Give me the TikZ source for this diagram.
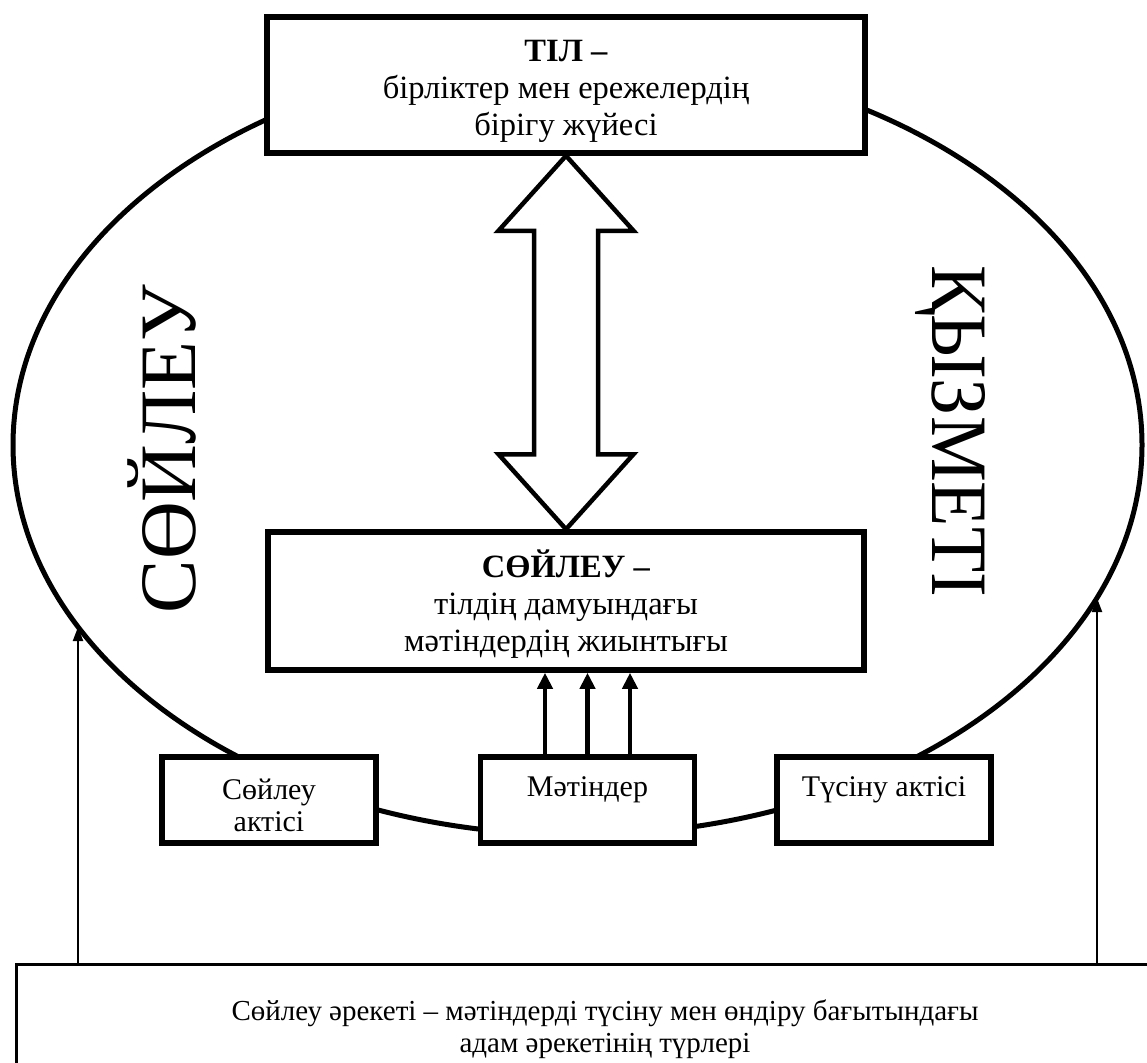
\documentclass[tikz,border=0pt]{standalone}
\usepackage{fontspec}
\setmainfont{Liberation Serif}
\usetikzlibrary{arrows.meta,calc}
\begin{document}
\begin{tikzpicture}[x=1pt,y=-1pt,
  bigbox/.style={draw,line width=5.5pt,fill=white,inner sep=0pt},
  boxtxt/.style={inner sep=0pt,align=center,font=\fontsize{32.5}{37}\selectfont},
  smallbox/.style={draw,line width=5.5pt,fill=white,inner sep=0pt,
    minimum width=214pt,minimum height=86pt},
  smalltxt/.style={inner sep=0pt,align=center,font=\fontsize{30}{32}\selectfont},
  bottombox/.style={draw,line width=2.5pt,fill=white,inner sep=0pt},
  bigword/.style={inner sep=0pt,font=\fontsize{80}{80}\selectfont},
  thickarrow/.style={line width=4.5pt,-{Triangle[length=16pt,width=15pt]}},
  thinarrow/.style={line width=2pt,-{Triangle[length=14pt,width=10pt]}},
  dblarrow/.style={line width=4.5pt,fill=white,line join=miter}]
\useasboundingbox (0,0) rectangle (1147,1062);

% big ellipse
\draw[line width=5pt] (577.5,445) ellipse [x radius=564.5pt, y radius=390pt];
\coordinate (eL) at (78,627);
\coordinate (eR) at (1097,598);

% rotated words
\node[bigword,rotate=90,anchor=base] (wL) at (195,449) {СӨЙЛЕУ};
\node[bigword,rotate=-90,anchor=base] (wR) at (932,431) {\scalebox{0.925}[1]{ҚЫЗМЕТІ}};

% top box
\node[bigbox,minimum width=598pt,minimum height=136pt] (til) at (566,85) {};
\node[boxtxt] (tiltxt) at (566,91)
  {\textbf{ТІЛ –}\\бірліктер мен ережелердің\\бірігу жүйесі};

% middle box
\node[bigbox,minimum width=596pt,minimum height=138pt] (soy) at (566,601) {};
\node[boxtxt] (soytxt) at (566,604)
  {\textbf{СӨЙЛЕУ –}\\тілдің дамуындағы\\мәтіндердің жиынтығы};

% double arrow
\draw[dblarrow] (til.south) -- ++(67.5,75) -- ++(-35.5,0)
  -- ($(soy.north)+(32,-75)$) -- ++(35.5,0) -- (soy.north)
  -- ++(-67.5,-75) -- ++(35.5,0) -- ($(til.south)+(-32,75)$)
  -- ++(-35.5,0) -- cycle;

% small boxes
\node[smallbox] (sa) at (269,800) {};
\node[smallbox] (mat) at (587.5,800) {};
\node[smallbox] (ta) at (884,800) {};
\node[smalltxt] (satxt) at (269,805) {Сөйлеу\\актісі};
\node[smalltxt] (mattxt) at (587.5,790) {Мәтіндер};
\node[smalltxt] (tatxt) at (884,790) {Түсіну актісі};

% three arrows
\coordinate (m1) at ($(mat.north)+(-42.5,0)$);
\coordinate (m2) at (mat.north);
\coordinate (m3) at ($(mat.north)+(42.5,0)$);
\draw[thickarrow] (m1) -- (m1 |- soy.south);
\draw[thickarrow] (m2) -- (m2 |- soy.south);
\draw[thickarrow] (m3) -- (m3 |- soy.south);

% bottom box
\node[bottombox,anchor=north west,minimum width=1150pt,minimum height=130pt] (act) at (15,963) {};
\node[smalltxt,font=\fontsize{29}{32}\selectfont] (acttxt) at (605,1029)
  {Сөйлеу әрекеті – мәтіндерді түсіну мен өндіру бағытындағы\\адам әрекетінің түрлері};

% long arrows
\draw[thinarrow] (eL |- act.north) -- (eL);
\draw[thinarrow] (eR |- act.north) -- (eR);
\end{tikzpicture}
\end{document}
